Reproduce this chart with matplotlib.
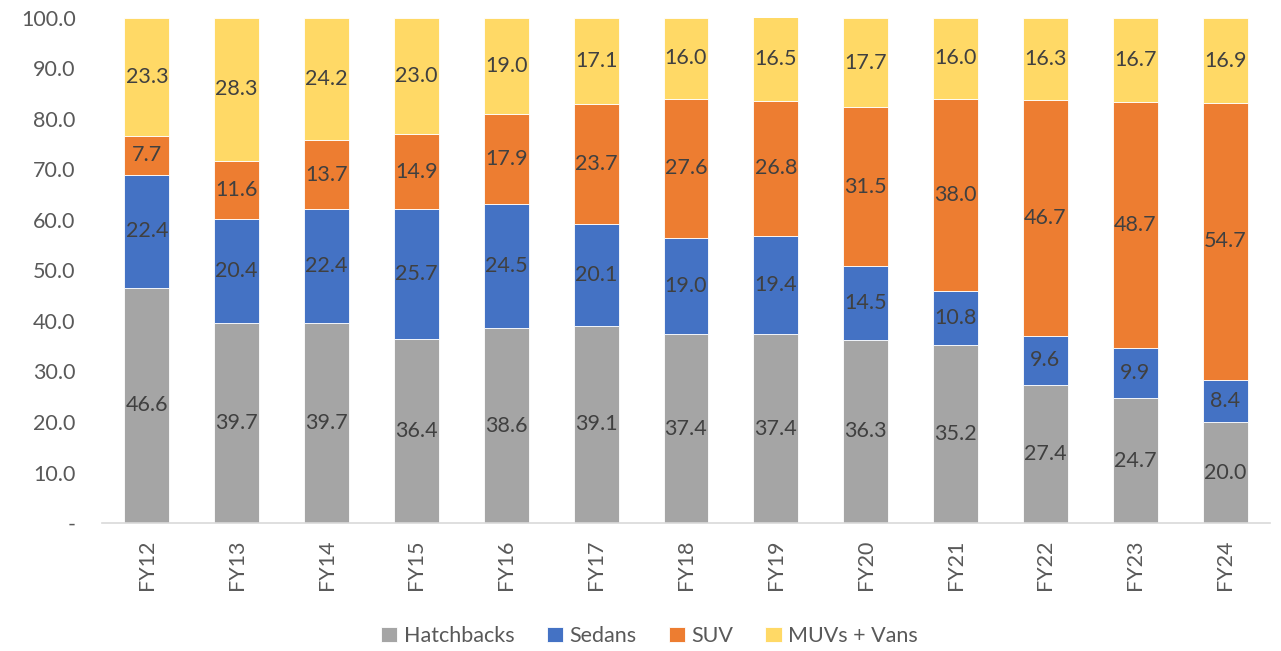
import numpy as np
import matplotlib
matplotlib.use("Agg")
import matplotlib.pyplot as plt
from matplotlib.ticker import FixedLocator, FuncFormatter

# Passenger vehicle segment mix (% share) by fiscal year
years = ["FY12", "FY13", "FY14", "FY15", "FY16", "FY17", "FY18",
         "FY19", "FY20", "FY21", "FY22", "FY23", "FY24"]
hatchbacks = [46.6, 39.7, 39.7, 36.4, 38.6, 39.1, 37.4, 37.4, 36.3, 35.2, 27.4, 24.7, 20.0]
sedans = [22.4, 20.4, 22.4, 25.7, 24.5, 20.1, 19.0, 19.4, 14.5, 10.8, 9.6, 9.9, 8.4]
suv = [7.7, 11.6, 13.7, 14.9, 17.9, 23.7, 27.6, 26.8, 31.5, 38.0, 46.7, 48.7, 54.7]
muvs_vans = [23.3, 28.3, 24.2, 23.0, 19.0, 17.1, 16.0, 16.5, 17.7, 16.0, 16.3, 16.7, 16.9]

series = [
    ("Hatchbacks", hatchbacks, "#A5A5A5"),
    ("Sedans", sedans, "#4472C4"),
    ("SUV", suv, "#ED7D31"),
    ("MUVs + Vans", muvs_vans, "#FFD966"),
]

plt.rcParams["font.family"] = ["Lato", "DejaVu Sans"]

fig = plt.figure(figsize=(12.81, 6.51), dpi=100)
ax = fig.add_axes([0.0796, 0.1966, 0.9118, 0.7758])

x = np.arange(len(years))
bottom = np.zeros(len(years))
for name, vals, color in series:
    vals = np.array(vals)
    bars = ax.bar(x, vals, 0.5, bottom=bottom, color=color, label=name,
                  edgecolor="white", linewidth=0.6)
    ax.bar_label(bars, labels=[f"{v:.1f}" for v in vals], label_type="center",
                 fontsize=15.5, color="#404040")
    bottom += vals

ax.set_xlim(-0.5, len(years) - 0.5)
ax.set_ylim(0, 100)
ax.yaxis.set_major_locator(FixedLocator(np.arange(0, 101, 10)))
ax.yaxis.set_major_formatter(FuncFormatter(lambda v, _: "-" if v == 0 else f"{v:.1f}"))
ax.set_xticks(x)
ax.set_xticklabels(years, rotation=90)
ax.tick_params(axis="both", length=0, labelsize=15.5, labelcolor="#595959")
ax.tick_params(axis="y", pad=19)
ax.tick_params(axis="x", pad=12)

for side in ("top", "right", "left"):
    ax.spines[side].set_visible(False)
ax.spines["bottom"].set_color("#D9D9D9")
ax.spines["bottom"].set_linewidth(1.2)

fig.legend(loc="center", bbox_to_anchor=(0.507, 0.023), ncol=4, frameon=False,
           fontsize=15.5, labelcolor="#595959", handlelength=0.75, handleheight=0.75,
           handletextpad=0.3, columnspacing=1.5)

fig.savefig("out.png", dpi=100)
